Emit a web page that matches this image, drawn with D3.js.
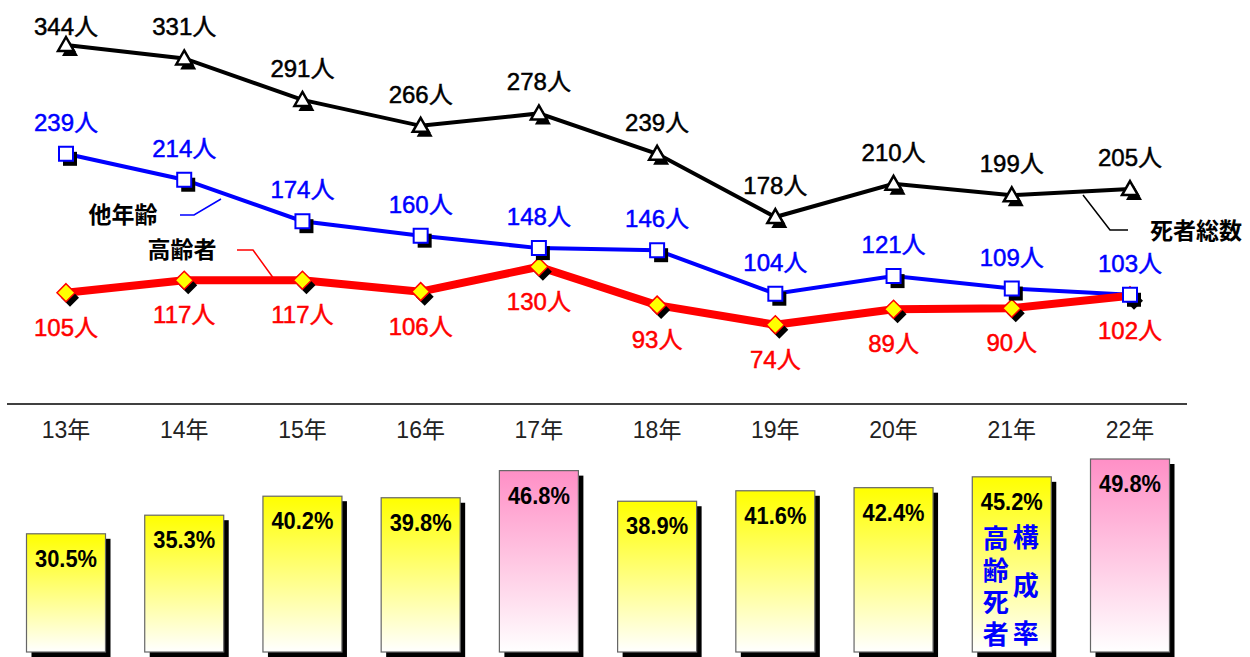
<!DOCTYPE html>
<html>
<head>
<meta charset="utf-8">
<script src="https://cdn.jsdelivr.net/npm/d3@7"></script>
<style>
  body { margin: 0; background: #fff; }
  svg text { font-family: "Liberation Sans", Arial, "Noto Sans CJK JP", sans-serif; }
</style>
</head>
<body>
<svg id="chart" width="1250" height="657"></svg>
<script>
// data
var years = ["13年", "14年", "15年", "16年", "17年", "18年", "19年", "20年", "21年", "22年"];
var totalDeaths = [344, 331, 291, 266, 278, 239, 178, 210, 199, 205];   // 死者総数
var otherAges = [239, 214, 174, 160, 148, 146, 104, 121, 109, 103];     // 他年齢
var elderly = [105, 117, 117, 106, 130, 93, 74, 89, 90, 102];           // 高齢者
var elderlyRate = [30.5, 35.3, 40.2, 39.8, 46.8, 38.9, 41.6, 42.4, 45.2, 49.8]; // 高齢死者構成率
var pinkYears = ["17年", "22年"];

var svg = d3.select("#chart");

var xScale = d3.scalePoint()
    .domain(years)
    .range([66, 1130]);

var yScale = d3.scaleLinear()
    .domain([0, 344])
    .range([401.5, 45]);

var barScale = d3.scaleLinear()
    .domain([0, 49.8])
    .range([652, 459]);

// gradients for the bars
var defs = svg.append("defs");
function grad(id, top) {
    var g = defs.append("linearGradient").attr("id", id)
        .attr("x1", 0).attr("y1", 0).attr("x2", 0).attr("y2", 1);
    g.append("stop").attr("offset", "0%").attr("stop-color", top);
    g.append("stop").attr("offset", "100%").attr("stop-color", "#ffffff");
}
grad("gYellow", "#ffff00");
grad("gPink", "#ff8fc6");

// separator line
svg.append("line")
    .attr("x1", 7).attr("x2", 1187)
    .attr("y1", 404).attr("y2", 404)
    .attr("stroke", "#000").attr("stroke-width", 1.3);

// year labels
svg.selectAll(".year")
    .data(years)
    .enter().append("text")
    .attr("class", "year")
    .attr("x", function(d){ return xScale(d); })
    .attr("y", 438)
    .attr("text-anchor", "middle")
    .attr("font-size", 23)
    .attr("fill", "#222")
    .text(function(d){ return d; });

// bars
var barW = 79;
var bars = svg.selectAll(".bar")
    .data(elderlyRate)
    .enter().append("g")
    .attr("class", "bar");

bars.append("rect")
    .attr("x", function(d, i){ return xScale(years[i]) - barW / 2 + 5; })
    .attr("y", function(d){ return barScale(d) + 5; })
    .attr("width", barW)
    .attr("height", function(d){ return 652 - barScale(d); })
    .attr("fill", "#000");

bars.append("rect")
    .attr("x", function(d, i){ return xScale(years[i]) - barW / 2; })
    .attr("y", function(d){ return barScale(d); })
    .attr("width", barW)
    .attr("height", function(d){ return 652 - barScale(d); })
    .attr("fill", function(d, i){ return pinkYears.indexOf(years[i]) >= 0 ? "url(#gPink)" : "url(#gYellow)"; })
    .attr("stroke", "#666")
    .attr("stroke-width", 1.2);

bars.append("text")
    .attr("x", function(d, i){ return xScale(years[i]) - 31; })
    .attr("y", function(d){ return barScale(d) + 33; })
    .attr("font-size", 24)
    .attr("font-weight", "bold")
    .attr("textLength", 62)
    .attr("lengthAdjust", "spacingAndGlyphs")
    .attr("fill", "#000")
    .text(function(d){ return d.toFixed(1) + "%"; });

// vertical caption inside the 21年 bar
var capX = xScale("21年");
var col1 = ["高", "齢", "死", "者"];
var col2 = ["構", "成", "率"];
svg.selectAll(".cap1")
    .data(col1).enter().append("text")
    .attr("x", capX - 16)
    .attr("y", function(d, i){ return 548 + i * 32; })
    .attr("text-anchor", "middle")
    .attr("font-size", 26).attr("font-weight", "bold")
    .attr("fill", "#0000ff")
    .text(function(d){ return d; });
svg.selectAll(".cap2")
    .data(col2).enter().append("text")
    .attr("x", capX + 14)
    .attr("y", function(d, i){ return 547 + i * 48; })
    .attr("text-anchor", "middle")
    .attr("font-size", 26).attr("font-weight", "bold")
    .attr("fill", "#0000ff")
    .text(function(d){ return d; });

// lines
function lineFor(vals) {
    return d3.line()
        .x(function(d, i){ return xScale(years[i]); })
        .y(function(d){ return yScale(d); })(vals);
}

svg.append("path").attr("d", lineFor(otherAges))
    .attr("fill", "none").attr("stroke", "#0000ff").attr("stroke-width", 4);
svg.append("path").attr("d", lineFor(elderly))
    .attr("fill", "none").attr("stroke", "#ff0000").attr("stroke-width", 8)
    .attr("stroke-linejoin", "round");
svg.append("path").attr("d", lineFor(totalDeaths))
    .attr("fill", "none").attr("stroke", "#000").attr("stroke-width", 4);

// markers
var tri = "M0,-8L8,6L-8,6Z";
var sq = "M-7,-7H7V7H-7Z";
var dia = "M0,-9L9,0L0,9L-9,0Z";

function markers(vals, shape, fill, stroke, sw) {
    var g = svg.append("g");
    g.selectAll(".sh").data(vals).enter().append("path")
        .attr("d", shape)
        .attr("transform", function(d, i){ return "translate(" + (xScale(years[i]) + 4) + "," + (yScale(d) + 5) + ")"; })
        .attr("fill", "#000");
    g.selectAll(".mk").data(vals).enter().append("path")
        .attr("d", shape)
        .attr("transform", function(d, i){ return "translate(" + xScale(years[i]) + "," + yScale(d) + ")"; })
        .attr("fill", fill).attr("stroke", stroke).attr("stroke-width", sw);
}
markers(elderly, dia, "#ffff00", "#ff0000", 1.5);
markers(otherAges, sq, "#ffffff", "#0000ff", 2);
markers(totalDeaths, tri, "#ffffff", "#000", 2.5);

// data labels
function labels(vals, color, off) {
    svg.append("g").selectAll("text").data(vals).enter().append("text")
        .attr("x", function(d, i){ return xScale(years[i]); })
        .attr("y", function(d){ return Math.max(yScale(d) + off, 35); })
        .attr("text-anchor", "middle")
        .attr("font-size", 24)
        .attr("fill", color)
        .attr("stroke", color)
        .attr("stroke-width", 0.5)
        .text(function(d){ return d + "人"; });
}
labels(totalDeaths, "#000", -23);
labels(otherAges, "#0000ff", -23);
labels(elderly, "#ff0000", 43);

// legend callouts
function callout(txt, tx, ty, anchor, pts, color) {
    svg.append("text")
        .attr("x", tx).attr("y", ty)
        .attr("text-anchor", anchor)
        .attr("font-size", 23).attr("font-weight", "bold")
        .attr("fill", "#000")
        .text(txt);
    svg.append("path")
        .attr("d", d3.line()(pts))
        .attr("fill", "none").attr("stroke", color).attr("stroke-width", 1.5);
}
callout("他年齢", 123, 223, "middle", [[180, 215], [194, 215], [221, 199]], "#0000ff");
callout("高齢者", 182, 258, "middle", [[237, 250], [253, 250], [274, 279]], "#ff0000");
callout("死者総数", 1196, 239, "middle", [[1083, 195], [1110, 230], [1128, 230]], "#000");
</script>
</body>
</html>
